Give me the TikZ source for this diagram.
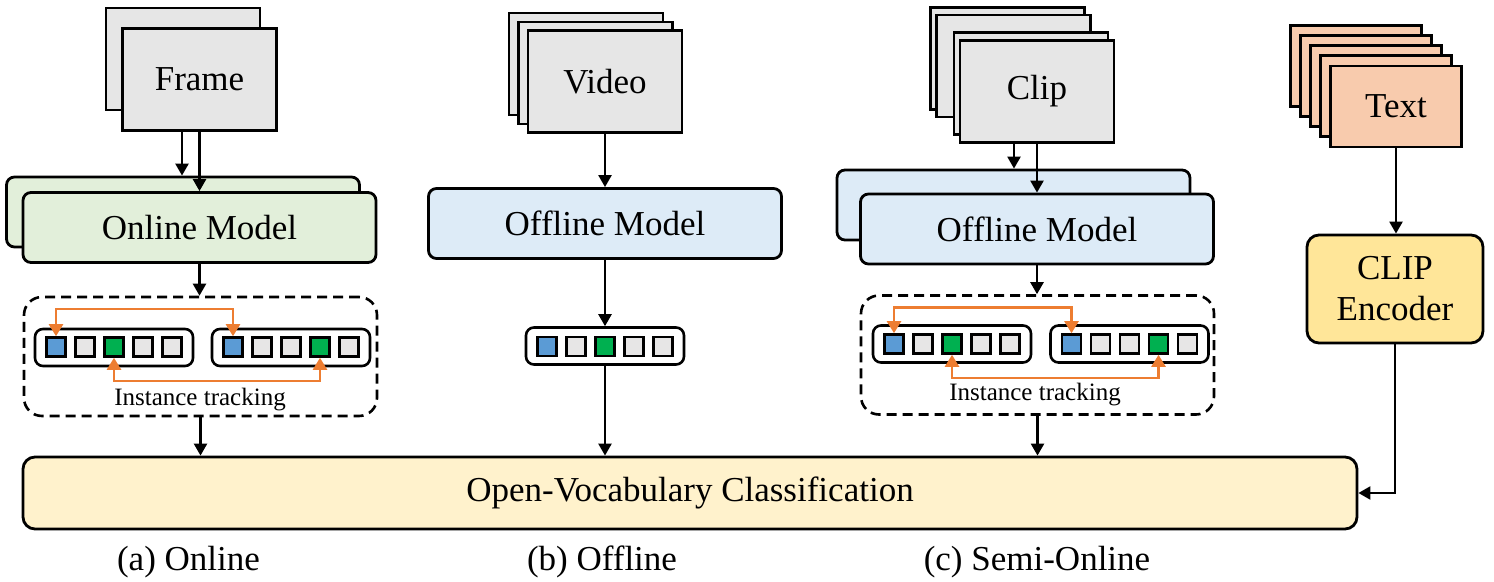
\documentclass[tikz,border=0pt]{standalone}
\usepackage{fontspec}
\setmainfont{Liberation Serif}
\usetikzlibrary{arrows.meta}

\definecolor{framegray}{HTML}{E6E6E6}
\definecolor{onlinegreen}{HTML}{E2EFDA}
\definecolor{offlineblue}{HTML}{DDEBF7}
\definecolor{textorange}{HTML}{F8CBAD}
\definecolor{clipyellow}{HTML}{FFE699}
\definecolor{clsyellow}{HTML}{FFF2CC}
\definecolor{tokblue}{HTML}{5B9BD5}
\definecolor{tokgreen}{HTML}{00B050}
\definecolor{tokgray}{HTML}{E7E6E6}
\definecolor{trackorange}{HTML}{ED7D31}

\tikzset{
    big/.style={font=\fontsize{17.5}{20.5}\selectfont},
    small/.style={font=\fontsize{12.5}{15}\selectfont},
    page/.style={draw, line width=1.4pt, fill=framegray, minimum width=77pt, minimum height=51pt, inner sep=0pt, big},
    model/.style={draw, line width=1.4pt, rounded corners=4pt, minimum width=176.5pt, minimum height=35pt, inner sep=0pt, big},
    group/.style={draw, line width=1.3pt, rounded corners=4pt, minimum width=79pt, minimum height=18.5pt, inner sep=0pt},
    tok/.style={draw, line width=1.3pt, fill=tokgray, minimum size=9.5pt, inner sep=0pt},
    tracker/.style={draw, line width=1.3pt, dash pattern=on 5pt off 3pt, rounded corners=9pt, minimum width=176.5pt, minimum height=59.5pt, inner sep=0pt},
    arr/.style={line width=1.2pt, -{Triangle[length=6pt,width=6.5pt]}},
    track/.style={trackorange, line width=1.2pt, {Triangle[length=6pt,width=7pt]}-{Triangle[length=6pt,width=7pt]}},
}

\begin{document}
\begin{tikzpicture}[x=0.5pt, y=-0.5pt]
    \useasboundingbox (0, 0) rectangle (1494, 582);

    \node[page] (framea) at (183, 59) {};
    \node[page] (frameb) at (199.5, 79.5) {Frame};
    \node[model, fill=onlinegreen] (onlback) at (183, 212) {};
    \node[model, fill=onlinegreen] (online) at (199.5, 227.5) {Online Model};
    \node[tracker] (trka) at (200.5, 356.5) {};
    \node[group] (ga1) at (114, 347.5) {};
    \node[group] (ga2) at (291, 347.5) {};
    \node[tok, fill=tokblue] (a11) at (56, 347) {};
    \node[tok] (a12) at (85, 347) {};
    \node[tok, fill=tokgreen] (a13) at (114, 347) {};
    \node[tok] (a14) at (143, 347) {};
    \node[tok] (a15) at (172, 347) {};
    \node[tok, fill=tokblue] (a21) at (233, 347) {};
    \node[tok] (a22) at (262, 347) {};
    \node[tok] (a23) at (291, 347) {};
    \node[tok, fill=tokgreen] (a24) at (320, 347) {};
    \node[tok] (a25) at (349, 347) {};
    \node[small] (lba) at (200, 400) {Instance tracking};

    \node[page] (vida) at (586, 64) {};
    \node[page] (vidb) at (595.5, 73) {};
    \node[page] (vidc) at (605, 81.5) {Video};
    \node[model, fill=offlineblue] (offl) at (605, 223.5) {Offline Model};
    \node[group] (gb) at (605, 346) {};
    \node[tok, fill=tokblue] (b1) at (547, 346.5) {};
    \node[tok] (b2) at (576, 346.5) {};
    \node[tok, fill=tokgreen] (b3) at (605, 346.5) {};
    \node[tok] (b4) at (634, 346.5) {};
    \node[tok] (b5) at (663, 346.5) {};

    \node[page] (clpa) at (1007.5, 58.5) {};
    \node[page] (clpb) at (1013.5, 66) {};
    \node[page] (clpc) at (1031, 83.5) {};
    \node[page] (clpd) at (1037, 91.5) {Clip};
    \node[model, fill=offlineblue] (semiback) at (1013.5, 205) {};
    \node[model, fill=offlineblue] (semi) at (1037, 229) {Offline Model};
    \node[tracker] (trkc) at (1037.5, 355) {};
    \node[group] (gc1) at (952, 344) {};
    \node[group] (gc2) at (1129.5, 344) {};
    \node[tok, fill=tokblue] (c11) at (894, 344) {};
    \node[tok] (c12) at (923, 344) {};
    \node[tok, fill=tokgreen] (c13) at (952, 344) {};
    \node[tok] (c14) at (981, 344) {};
    \node[tok] (c15) at (1010, 344) {};
    \node[tok, fill=tokblue] (c21) at (1071.5, 344) {};
    \node[tok] (c22) at (1100.5, 344) {};
    \node[tok] (c23) at (1129.5, 344) {};
    \node[tok, fill=tokgreen] (c24) at (1158.5, 344) {};
    \node[tok] (c25) at (1187.5, 344) {};
    \node[small] (lbc) at (1035, 395) {Instance tracking};

    \node[page, fill=textorange, minimum width=65.5pt, minimum height=40.5pt] (txa) at (1356, 66) {};
    \node[page, fill=textorange, minimum width=65.5pt, minimum height=40.5pt] (txb) at (1366, 76) {};
    \node[page, fill=textorange, minimum width=65.5pt, minimum height=40.5pt] (txc) at (1376, 86) {};
    \node[page, fill=textorange, minimum width=65.5pt, minimum height=40.5pt] (txd) at (1386, 96) {};
    \node[page, fill=textorange, minimum width=65.5pt, minimum height=40.5pt] (txe) at (1396, 106.5) {Text};
    \node[model, fill=clipyellow, rounded corners=6pt, minimum width=88pt, minimum height=54pt, align=center] (clip) at (1395, 289) {CLIP\\Encoder};

    \node[model, fill=clsyellow, rounded corners=6pt, minimum width=667pt, minimum height=36pt] (cls) at (690, 493) {Open-Vocabulary Classification};

    \node[big] (capa) at (188.5, 562) {(a) Online};
    \node[big] (capb) at (602, 562) {(b) Offline};
    \node[big] (capc) at (1037, 562) {(c) Semi-Online};

    \draw[arr] ([xshift=-8.75pt]frameb.south) -- ([xshift=-8.75pt]frameb.south |- onlback.north);
    \draw[arr] (frameb.south) -- (online.north);
    \draw[arr] (online.south) -- (online.south |- trka.north);
    \draw[track] (a11.north) -- ++(0, -27) -| (a21.north);
    \draw[track] (a13.south) -- ++(0, 23) -| (a24.south);
    \draw[arr] (trka.south) -- (trka.south |- cls.north);

    \draw[arr] (vidc.south) -- (offl.north);
    \draw[arr] (offl.south) -- (gb.north);
    \draw[arr] (gb.south) -- (gb.south |- cls.north);

    \draw[arr] ([xshift=-11.5pt]clpd.south) -- ([xshift=-11.5pt]clpd.south |- semiback.north);
    \draw[arr] (clpd.south) -- (semi.north);
    \draw[arr] (semi.south) -- (semi.south |- trkc.north);
    \draw[track] (c11.north) -- ++(0, -25.5) -| (c21.north);
    \draw[track] (c13.south) -- ++(0, 23.5) -| (c24.south);
    \draw[arr] (trkc.south) -- (trkc.south |- cls.north);

    \draw[arr] (txe.south) -- (txe.south |- clip.north);
    \draw[arr] (clip.south) |- (cls.east);
\end{tikzpicture}
\end{document}
